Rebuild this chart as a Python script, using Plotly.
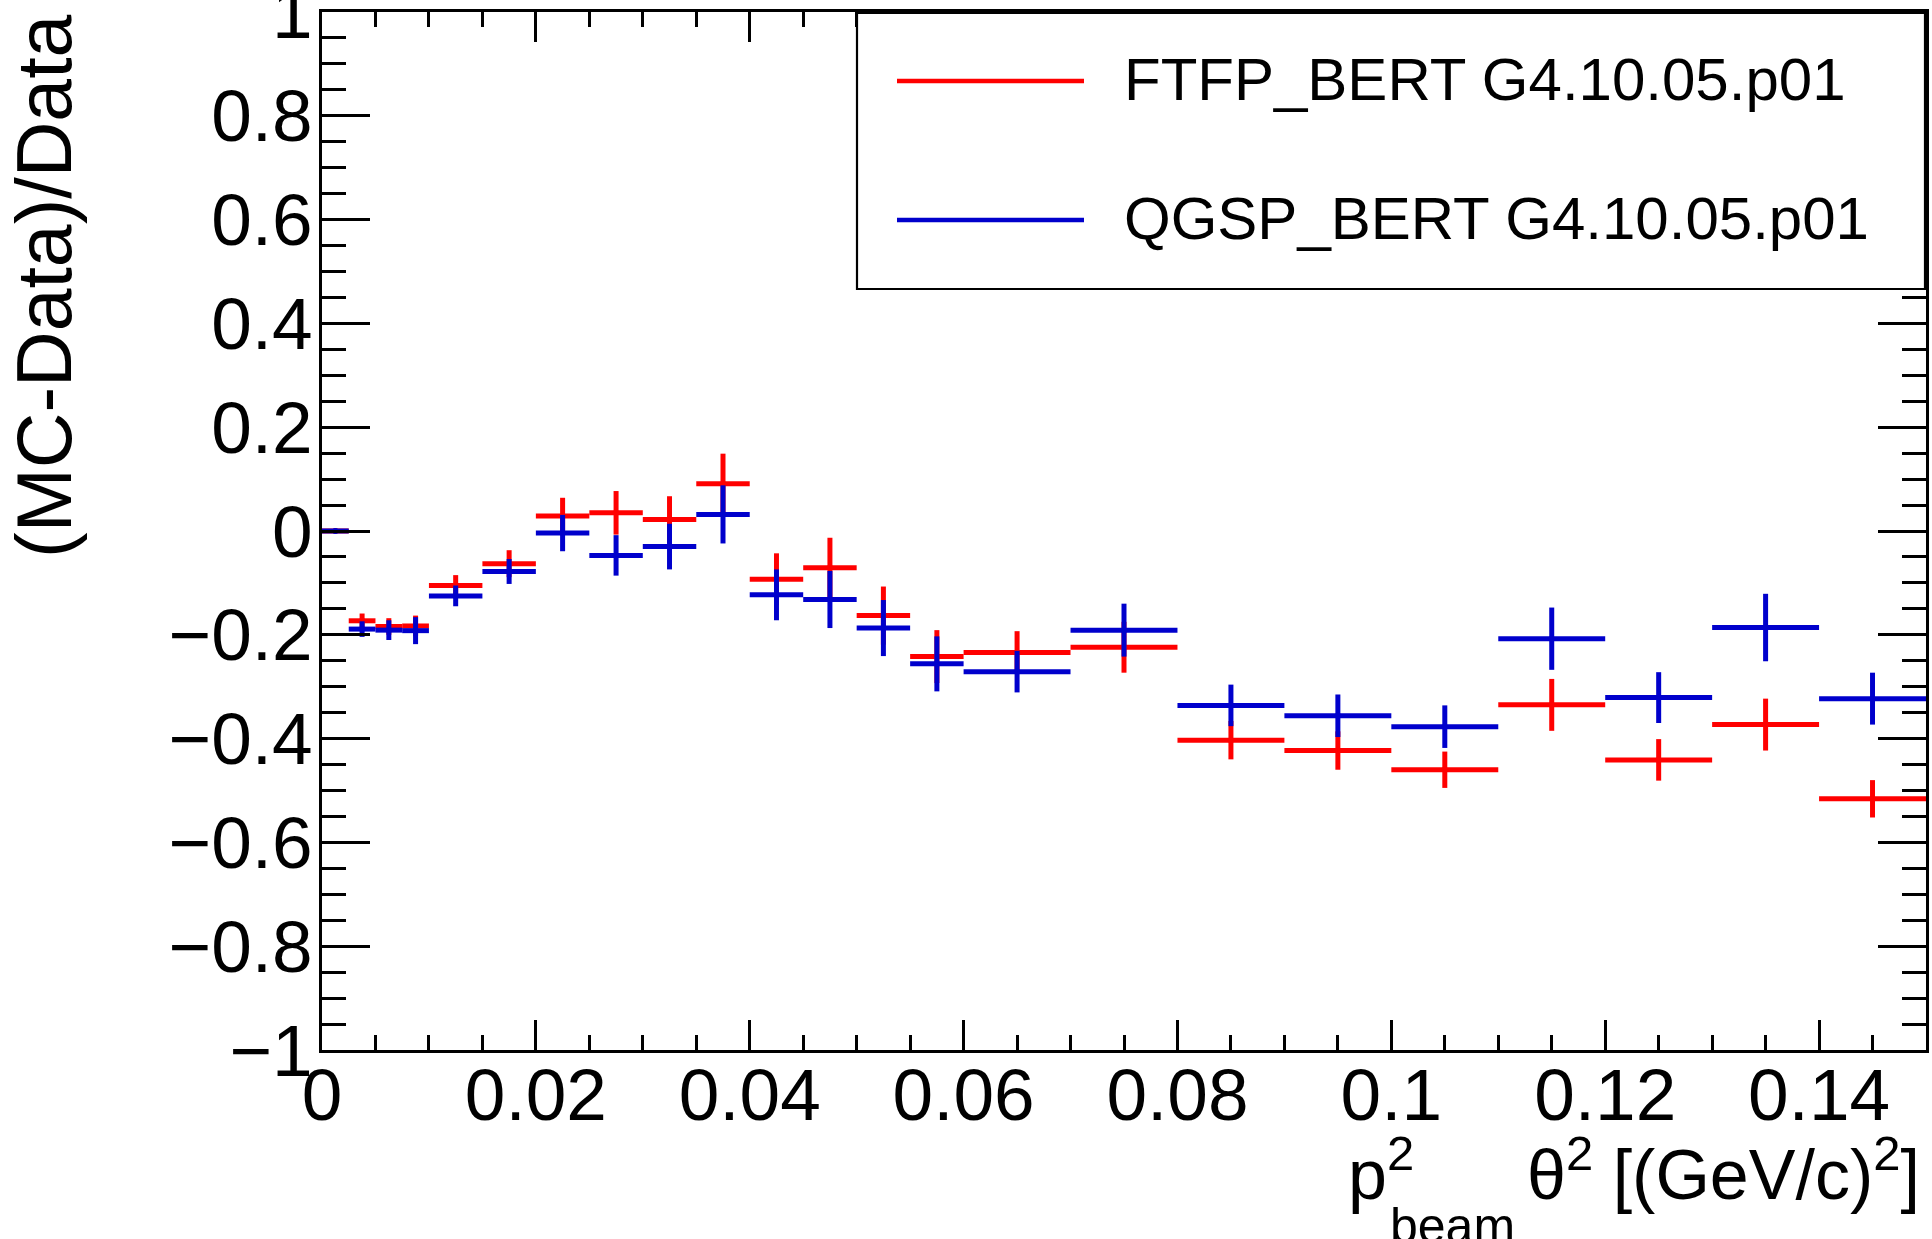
import plotly.graph_objects as go

# ---------------- data ----------------
bin_edges = [0.0, 0.0025, 0.005, 0.0075, 0.01, 0.015, 0.02, 0.025, 0.03, 0.035,
             0.04, 0.045, 0.05, 0.055, 0.06, 0.07, 0.08, 0.09, 0.10, 0.11,
             0.12, 0.13, 0.14, 0.15]

ftfp_vals = [0.0, -0.173, -0.184, -0.183, -0.105, -0.063, 0.029, 0.035, 0.022, 0.091,
             -0.093, -0.071, -0.163, -0.242, -0.234, -0.224, -0.403, -0.423, -0.460,
             -0.335, -0.441, -0.373, -0.516]
ftfp_errs = [0.0, 0.014, 0.016, 0.020, 0.020, 0.026, 0.035, 0.042, 0.045, 0.058,
             0.050, 0.058, 0.056, 0.051, 0.041, 0.049, 0.037, 0.037, 0.035,
             0.050, 0.040, 0.050, 0.036]

qgsp_vals = [0.0, -0.189, -0.191, -0.192, -0.125, -0.078, -0.004, -0.047, -0.030, 0.032,
             -0.123, -0.132, -0.187, -0.256, -0.271, -0.191, -0.336, -0.356, -0.377,
             -0.2075, -0.321, -0.186, -0.323]
qgsp_errs = [0.0, 0.015, 0.019, 0.026, 0.020, 0.024, 0.035, 0.039, 0.044, 0.056,
             0.049, 0.055, 0.054, 0.053, 0.040, 0.051, 0.040, 0.041, 0.041,
             0.060, 0.049, 0.065, 0.050]

series_names = ["FTFP_BERT G4.10.05.p01", "QGSP_BERT G4.10.05.p01"]
series_colors = ["#ff0000", "#0000cc"]

y_tickvals = [-1, -0.8, -0.6, -0.4, -0.2, 0, 0.2, 0.4, 0.6, 0.8, 1]
y_ticktext = ["\u22121", "\u22120.8", "\u22120.6", "\u22120.4", "\u22120.2", "0",
              "0.2", "0.4", "0.6", "0.8", "1"]
x_tickvals = [0, 0.02, 0.04, 0.06, 0.08, 0.10, 0.12, 0.14]
x_ticktext = ["0", "0.02", "0.04", "0.06", "0.08", "0.1", "0.12", "0.14"]

y_title = "(MC-Data)/Data"

# ---------------- geometry ----------------
W, H = 1932, 1239
ML, MR, MT, MB = 322, 6, 12, 189
PW, PH = W - ML - MR, H - MT - MB


def px(xp):
    return (xp - ML) / PW


def py(yp):
    return (H - MB - yp) / PH


FONT = "Liberation Sans, Arial, Helvetica, sans-serif"

centers = [(a + b) / 2 for a, b in zip(bin_edges[:-1], bin_edges[1:])]
halfw = [(b - a) / 2 for a, b in zip(bin_edges[:-1], bin_edges[1:])]

fig = go.Figure()
for vals, errs, name, col in [(ftfp_vals, ftfp_errs, series_names[0], series_colors[0]),
                              (qgsp_vals, qgsp_errs, series_names[1], series_colors[1])]:
    fig.add_trace(go.Scatter(
        x=centers, y=vals, name=name, mode="markers",
        marker=dict(size=0, color=col),
        error_x=dict(type="data", array=halfw, symmetric=True, width=0,
                     thickness=5, color=col),
        error_y=dict(type="data", array=errs, symmetric=True, width=0,
                     thickness=5, color=col),
        showlegend=False,
    ))

axis_common = dict(
    showline=True, linecolor="black", linewidth=2.5, mirror="ticks",
    ticks="inside", tickcolor="black", tickwidth=2.5,
    showgrid=False, zeroline=False, ticklabeloverflow="allow", automargin=False,
    tickfont=dict(family=FONT, size=73, color="black"),
)

fig.update_xaxes(range=[0, 0.15], tickvals=x_tickvals, ticktext=x_ticktext,
                 ticklen=30, ticklabelstandoff=-20,
                 minor=dict(dtick=0.005, tick0=0, ticks="inside", ticklen=15,
                            tickwidth=2.5, tickcolor="black", showgrid=False),
                 **axis_common)
fig.update_yaxes(range=[-1, 1], tickvals=y_tickvals, ticktext=y_ticktext,
                 ticklen=48, ticklabelstandoff=-8,
                 minor=dict(dtick=0.05, tick0=0, ticks="inside", ticklen=24,
                            tickwidth=2.5, tickcolor="black", showgrid=False),
                 **axis_common)

# ---------------- legend (drawn as a ROOT-style box) ----------------
shapes = [
    dict(type="rect", xref="paper", yref="paper",
         x0=px(857), x1=px(1925), y0=py(289), y1=py(13),
         line=dict(color="black", width=2.2), fillcolor="white", layer="above"),
]
annotations = []
for i, (name, col) in enumerate(zip(series_names, series_colors)):
    ly = [81, 220][i]
    shapes.append(dict(type="line", xref="paper", yref="paper",
                       x0=px(897), x1=px(1084), y0=py(ly), y1=py(ly),
                       line=dict(color=col, width=4.5), layer="above"))
    annotations.append(dict(text=name, xref="paper", yref="paper",
                            x=px(1122), y=py(ly - 2), xanchor="left", yanchor="middle",
                            showarrow=False,
                            font=dict(family=FONT, size=60, color="black")))

# y-axis title (ROOT style: right-aligned to top)
annotations.append(dict(text=y_title, xref="paper", yref="paper",
                        x=px(44), y=py(12), xanchor="center", yanchor="top",
                        textangle=-90, showarrow=False,
                        font=dict(family=FONT, size=77, color="black")))

# x-axis title pieces (ROOT style: right-aligned)
annotations.append(dict(text="\u03b8<sup>2</sup> [(GeV/c)<sup>2</sup>]",
                        xref="paper", yref="paper", x=px(1922), y=py(1170),
                        xanchor="right", yanchor="middle", showarrow=False,
                        font=dict(family=FONT, size=70, color="black")))
annotations.append(dict(text="p<sup>2</sup>",
                        xref="paper", yref="paper", x=px(1346), y=py(1170),
                        xanchor="left", yanchor="middle", showarrow=False,
                        font=dict(family=FONT, size=70, color="black")))
annotations.append(dict(text="beam",
                        xref="paper", yref="paper", x=px(1388), y=py(1226),
                        xanchor="left", yanchor="middle", showarrow=False,
                        font=dict(family=FONT, size=50, color="black")))

fig.update_layout(
    width=W, height=H,
    margin=dict(l=ML, r=MR, t=MT, b=MB, pad=0, autoexpand=False),
    paper_bgcolor="white", plot_bgcolor="white",
    shapes=shapes, annotations=annotations,
    showlegend=False,
)

fig.write_html("out.html")
